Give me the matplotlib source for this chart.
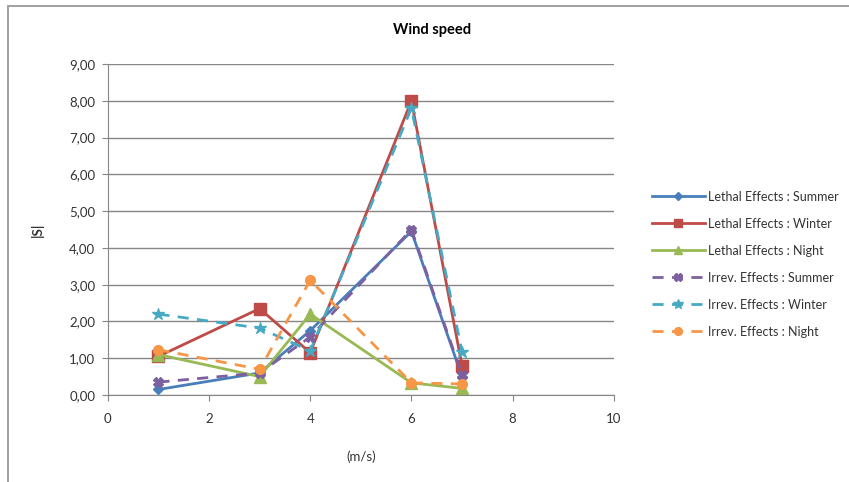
import matplotlib
matplotlib.use('Agg')
import matplotlib.pyplot as plt
from matplotlib.patches import Rectangle
from matplotlib.ticker import FuncFormatter

plt.rcParams['font.family'] = ['Lato', 'DejaVu Sans']

x = [1, 3, 4, 6, 7]
lethal_summer = [0.15, 0.60, 1.75, 4.45, 0.50]
lethal_winter = [1.05, 2.35, 1.15, 8.00, 0.80]
lethal_night = [1.10, 0.50, 2.20, 0.33, 0.18]
irrev_summer = [0.35, 0.60, 1.58, 4.50, 0.55]
irrev_winter = [2.20, 1.82, 1.20, 7.80, 1.18]
irrev_night = [1.23, 0.70, 3.12, 0.33, 0.30]

labels = ['Lethal Effects : Summer', 'Lethal Effects : Winter', 'Lethal Effects : Night',
          'Irrev. Effects : Summer', 'Irrev. Effects : Winter', 'Irrev. Effects : Night']

fig = plt.figure(figsize=(8.49, 4.82), dpi=100)
fig.patches.append(Rectangle((0.009, -0.01), 1.1, 0.998, transform=fig.transFigure,
                             fill=False, edgecolor='#a0a0a0', linewidth=1.4))
ax = fig.add_axes([0.127, 0.1805, 0.596, 0.6865])

ax.plot(x, lethal_summer, color='#4A7EBB', lw=2, marker='D', ms=5, label=labels[0])
ax.plot(x, lethal_winter, color='#BE4B48', lw=2, marker='s', ms=8, label=labels[1])
ax.plot(x, lethal_night, color='#98B954', lw=2, marker='^', ms=8, label=labels[2])
ax.plot(x, irrev_summer, color='#7D60A0', lw=2, ls=(0, (4, 3)), marker='X', ms=7, label=labels[3])
ax.plot(x, irrev_winter, color='#46AAC5', lw=2, ls=(0, (4, 3)), marker='*', ms=9, label=labels[4])
ax.plot(x, irrev_night, color='#F79646', lw=2, ls=(0, (4, 3)), marker='o', ms=7, label=labels[5])

ax.set_xlim(0, 10)
ax.set_ylim(0, 9)
ax.set_xticks([0, 2, 4, 6, 8, 10])
ax.set_yticks(range(0, 10))
ax.yaxis.set_major_formatter(FuncFormatter(lambda v, p: ('%.2f' % v).replace('.', ',')))
ax.grid(axis='y', color='#868686', lw=1)
ax.set_axisbelow(True)
for s in ['top', 'right']:
    ax.spines[s].set_visible(False)
for s in ['left', 'bottom']:
    ax.spines[s].set_color('#868686')
ax.tick_params(colors='#868686', labelcolor='#333333', labelsize=9.5, length=4)
ax.tick_params(axis='x', pad=9)
ax.tick_params(axis='y', pad=5)

fig.text(0.509, 0.938, 'Wind speed', fontsize=10.5, fontweight='bold', ha='center', va='center')
ax.set_xlabel('(m/s)', fontsize=9.5, labelpad=18, color='#333333')
ax.set_ylabel('|S|', fontsize=9.5, fontweight='bold', labelpad=18, color='#333333')

leg = fig.legend(loc='center left', bbox_to_anchor=(0.755, 0.452), frameon=False, fontsize=9,
                 handlelength=4.2, labelspacing=1.2, handletextpad=0.3, markerscale=0.8)
for t in leg.get_texts():
    t.set_color('#333333')

plt.savefig('out.png', dpi=100)
